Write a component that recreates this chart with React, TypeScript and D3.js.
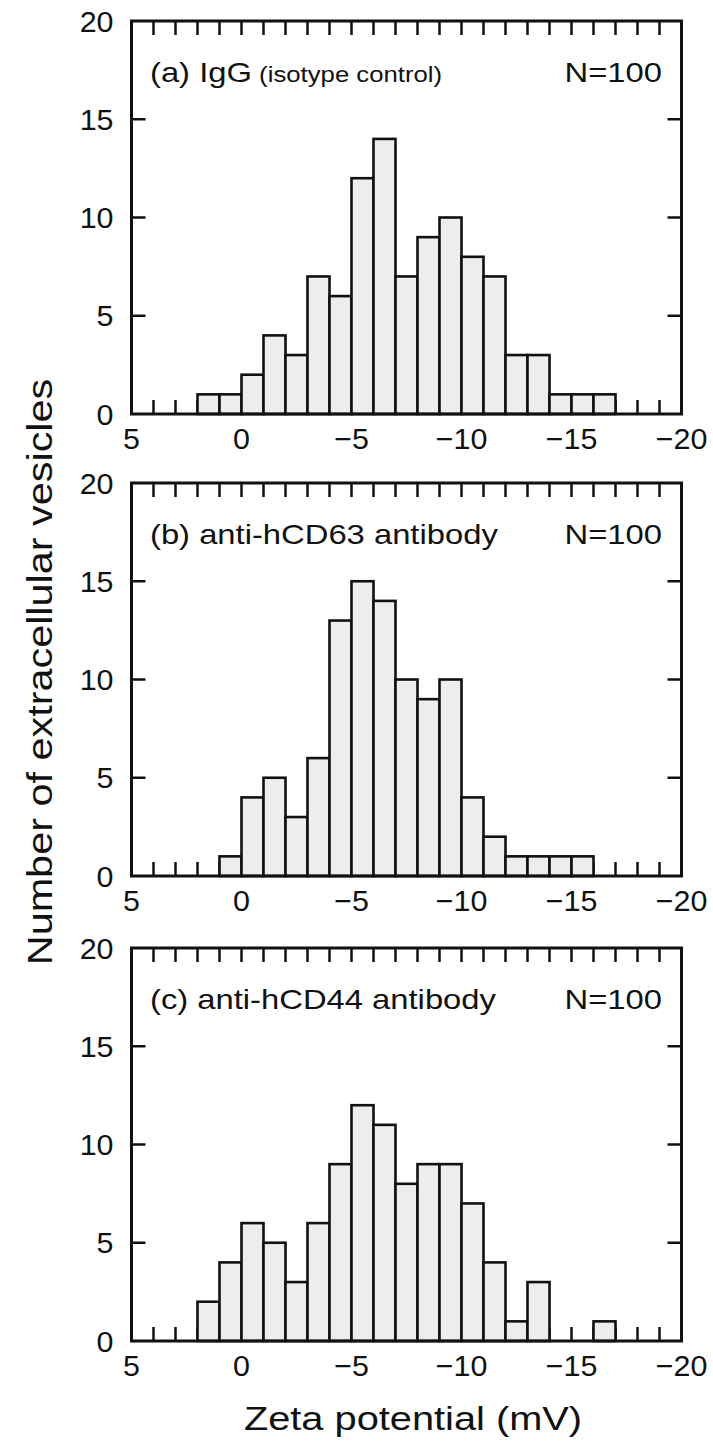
import * as d3 from "d3";

// bin left edges (mV), bins are 1 mV wide going toward more negative values
const BIN_EDGES = [5, 4, 3, 2, 1, 0, -1, -2, -3, -4, -5, -6, -7, -8, -9, -10, -11, -12, -13, -14, -15, -16, -17, -18, -19];

const COUNTS_IGG = [0, 0, 0, 1, 1, 2, 4, 3, 7, 6, 12, 14, 7, 9, 10, 8, 7, 3, 3, 1, 1, 1, 0, 0, 0];
const COUNTS_CD63 = [0, 0, 0, 0, 1, 4, 5, 3, 6, 13, 15, 14, 10, 9, 10, 4, 2, 1, 1, 1, 1, 0, 0, 0, 0];
const COUNTS_CD44 = [0, 0, 0, 2, 4, 6, 5, 3, 6, 9, 12, 11, 8, 9, 9, 7, 4, 1, 3, 0, 0, 1, 0, 0, 0];

const X_TICK_LABELS = [5, 0, -5, -10, -15, -20];
const Y_TICK_LABELS = [0, 5, 10, 15, 20];

const W = 713;
const H = 1441;
const FONT = "'Liberation Sans', Arial, Helvetica, sans-serif";
const WIDE = 1.17; // the original lettering is wider than Arial

const fmt = (v: number) => (v < 0 ? "\u2212" + Math.abs(v) : String(v));

const x = d3.scaleLinear().domain([5, -20]).range([131.5, 681.5]);
const PANEL_H = 393;

function Label({ x: tx, y: ty, size, anchor = "start", children, rotate = 0, sx = WIDE }: any) {
  return (
    <text
      transform={`translate(${tx},${ty}) rotate(${rotate}) scale(${sx},1)`}
      fontSize={size}
      textAnchor={anchor}
      fill="#111"
    >
      {children}
    </text>
  );
}

function Panel({ top, counts, title, sub }: { top: number; counts: number[]; title: string; sub?: string }) {
  const y = d3.scaleLinear().domain([0, 20]).range([top + PANEL_H, top]);
  const bottom = y(0);
  const left = x(5);
  const right = x(-20);
  const minor = d3.range(4, -20, -1);
  const tickLen = 14;

  return (
    <g>
      {/* x minor ticks, top and bottom, pointing inward */}
      {minor.map((v) => (
        <g key={v} stroke="#111" strokeWidth={2.5}>
          <line x1={x(v)} x2={x(v)} y1={top} y2={top + tickLen} />
          <line x1={x(v)} x2={x(v)} y1={bottom} y2={bottom - tickLen} />
        </g>
      ))}
      {[5, 10, 15].map((v) => (
        <g key={v} stroke="#111" strokeWidth={2.5}>
          <line x1={left} x2={left + tickLen} y1={y(v)} y2={y(v)} />
          <line x1={right} x2={right - tickLen} y1={y(v)} y2={y(v)} />
        </g>
      ))}

      {BIN_EDGES.map((b, i) =>
        counts[i] > 0 ? (
          <rect
            key={b}
            x={x(b)}
            y={y(counts[i])}
            width={x(b - 1) - x(b)}
            height={bottom - y(counts[i])}
            fill="#ededed"
            stroke="#111"
            strokeWidth={2.6}
          />
        ) : null
      )}

      <rect x={left} y={top} width={right - left} height={PANEL_H} fill="none" stroke="#111" strokeWidth={3} />

      {Y_TICK_LABELS.map((v) => (
        <Label key={v} x={left - 18} y={y(v) + 10.5} size={29} anchor="end" sx={1.05}>
          {fmt(v)}
        </Label>
      ))}
      {X_TICK_LABELS.map((v) => (
        <Label key={v} x={x(v)} y={bottom + 35} size={29} anchor="middle" sx={1.05}>
          {fmt(v)}
        </Label>
      ))}

      <Label x={150} y={top + 61} size={28}>
        {title}
        {sub ? <tspan fontSize={22}>{" " + sub}</tspan> : null}
      </Label>
      <Label x={662} y={top + 61} size={28} anchor="end">
        N=100
      </Label>
    </g>
  );
}

export default function App() {
  return (
    <svg
      width={W}
      height={H}
      style={{ position: "absolute", left: 0, top: 0, background: "#fff" }}
      fontFamily={FONT}
    >
      <Panel top={21} counts={COUNTS_IGG} title="(a) IgG" sub="(isotype control)" />
      <Panel top={483} counts={COUNTS_CD63} title="(b) anti-hCD63 antibody" />
      <Panel top={948} counts={COUNTS_CD44} title="(c) anti-hCD44 antibody" />

      <Label x={52} y={672} size={36} anchor="middle" rotate={-90} sx={1.15}>
        Number of extracellular vesicles
      </Label>
      <Label x={413} y={1430} size={34} anchor="middle">
        Zeta potential (mV)
      </Label>
    </svg>
  );
}
